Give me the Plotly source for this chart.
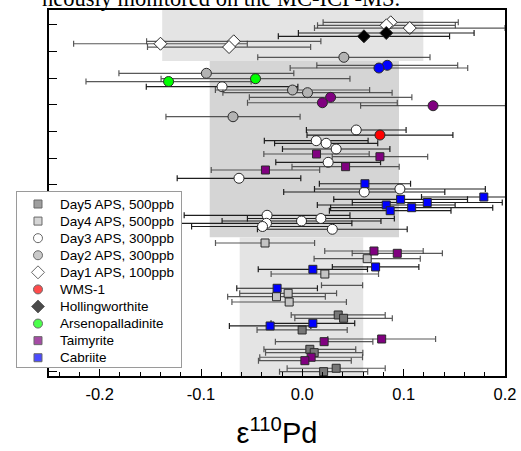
import plotly.graph_objects as go

# ---------------- data (epsilon 110Pd, 2SD, row position) ----------------
day5_x = [0.0354, 0.0407, -0.0002, 0.0074, 0.0117, 0.0334, 0.0210]
day5_err = [0.0464, 0.0481, 0.0445, 0.0453, 0.0480, 0.0484, 0.0435]
day5_y = [10.64, 10.02, 7.83, 4.21, 3.58, 0.66, 0.02]

day4_x = [-0.0368, 0.0640, 0.0222, -0.0140, -0.0255, -0.0130]
day4_err = [0.0489, 0.0524, 0.0530, 0.0478, 0.0482, 0.0565]
day4_y = [24.12, 21.18, 18.31, 14.70, 14.06, 13.07]

day4_baronly_x = [0.0392]
day4_baronly_err = [0.0203]
day4_baronly_y = [16.2]

day3_x = [-0.0792, 0.0532, 0.0137, 0.0235, 0.0334, 0.0255, -0.0625, 0.0963,
          0.0611, -0.0348, 0.0183, -0.0008, -0.0354, -0.0393, 0.0296]
day3_err = [0.0748, 0.0492, 0.0512, 0.0509, 0.0530, 0.0517, 0.0610, 0.0843,
            0.0795, 0.0818, 0.0725, 0.0784, 0.0843, 0.0700, 0.0739]
day3_y = [53.39, 45.28, 43.28, 42.79, 41.72, 39.23, 36.24, 34.23,
          33.67, 29.31, 28.71, 28.24, 27.81, 27.21, 26.69]

day2_x = [0.0410, -0.0947, -0.0097, 0.0051, -0.0684]
day2_err = [0.0850, 0.0863, 0.0761, 0.0835, 0.0662]
day2_y = [58.90, 55.90, 52.77, 52.27, 47.77]

day1_x = [0.0872, 0.0830, 0.1060, -0.0677, -0.1400, -0.0723]
day1_err = [0.0667, 0.0680, 0.0940, 0.0860, 0.0857, 0.0805]
day1_y = [65.45, 64.89, 64.38, 61.89, 61.44, 60.82]

wms_x = [0.0766]
wms_err = [0.0720]
wms_y = [44.34]

holl_x = [0.0828, 0.0608]
holl_err = [0.0867, 0.0845]
holl_y = [63.45, 62.83]

arseno_x = [-0.0462, -0.1320]
arseno_err = [0.0932, 0.0815]
arseno_y = [54.89, 54.36]

taim_x = [0.0140, 0.0766, 0.0427, -0.0364, 0.0707, 0.0937, 0.0783, 0.0215, 0.0087, 0.0025]
taim_err = [0.0520, 0.0471, 0.0529, 0.0535, 0.0486, 0.0445, 0.0532, 0.0481, 0.0507, 0.0458]
taim_y = [40.79, 40.28, 38.41, 37.79, 22.62, 22.19, 6.14, 5.64, 2.72, 2.08]

taim_c_x = [0.0279, 0.0198, 0.1290]
taim_c_err = [0.0802, 0.0739, 0.0715]
taim_c_y = [51.40, 50.39, 49.83]

cab_x = [0.0618, 0.1791, 0.0970, 0.1233, 0.0828, 0.1079, 0.0867, 0.0723, 0.0104,
         -0.0249, 0.0104, -0.0318]
cab_err = [0.0450, 0.0615, 0.0660, 0.0740, 0.0680, 0.0800, 0.0600, 0.0427, 0.0539,
           0.0398, 0.0413, 0.0402]
cab_y = [35.22, 32.73, 32.30, 31.70, 31.24, 30.73, 30.17, 19.63, 19.19,
         15.64, 9.08, 8.58]

cab_c_x = [0.0838, 0.0756]
cab_c_err = [0.0695, 0.0876]
cab_c_y = [57.40, 56.89]

# 2SD bands
band_x0 = [-0.1383, -0.0914, -0.0618]
band_x1 = [0.1194, 0.0954, 0.0601]
band_y0 = [58.2, 25.2, -0.79]
band_y1 = [67.85, 58.2, 25.2]
band_col = ["#e4e4e4", "#d5d5d5", "#e4e4e4"]

x_tickvals = [-0.2, -0.1, 0.0, 0.1, 0.2]
x_ticktext = ["-0.2", "-0.1", "0.0", "0.1", "0.2"]

legend_names = ["Day5 APS, 500ppb", "Day4 APS, 500ppb", "Day3 APS, 300ppb",
                "Day2 APS, 300ppb", "Day1 APS, 100ppb", "WMS-1", "Hollingworthite",
                "Arsenopalladinite", "Taimyrite", "Cabriite"]
legend_symbols = ["square", "square", "circle", "circle", "diamond", "circle",
                  "diamond", "circle", "square", "square"]
legend_colors = ["#777777", "#c4c4c4", "#ffffff", "#b3b3b3", "#ffffff", "#ff0000",
                 "#000000", "#00ff00", "#800080", "#0000ff"]

W, H = 521, 451

fig = go.Figure()

grey_bar = "rgba(60,60,60,0.85)"
dark_bar = "#1e1e1e"
edge = "#2a2a2a"


def add(name, xs, errs, ys, symbol, fill, size, barcol):
    fig.add_trace(go.Scatter(
        x=xs, y=ys, mode="markers", name=name, showlegend=False,
        marker=dict(symbol=symbol, color=fill, size=size,
                    line=dict(color=edge, width=1)),
        error_x=dict(type="data", array=errs, symmetric=True,
                     color=barcol, thickness=1.2, width=3),
    ))


add("Day5 APS, 500ppb", day5_x, day5_err, day5_y, "square", "#777777", 8, grey_bar)
add("Day4 APS, 500ppb", day4_x, day4_err, day4_y, "square", "#c4c4c4", 8, grey_bar)
fig.add_trace(go.Scatter(
    x=day4_baronly_x, y=day4_baronly_y, mode="markers", showlegend=False,
    marker=dict(size=1, color="rgba(0,0,0,0)"),
    error_x=dict(type="data", array=day4_baronly_err, symmetric=True,
                 color=grey_bar, thickness=1.2, width=3)))
add("Day3 APS, 300ppb", day3_x, day3_err, day3_y, "circle", "#ffffff", 10, dark_bar)
add("Day2 APS, 300ppb", day2_x, day2_err, day2_y, "circle", "#b3b3b3", 10, grey_bar)
add("Day1 APS, 100ppb", day1_x, day1_err, day1_y, "diamond", "#ffffff", 10, grey_bar)
add("WMS-1", wms_x, wms_err, wms_y, "circle", "#ff0000", 10, dark_bar)
add("Hollingworthite", holl_x, holl_err, holl_y, "diamond", "#000000", 10, dark_bar)
add("Arsenopalladinite", arseno_x, arseno_err, arseno_y, "circle", "#00ff00", 10, grey_bar)
add("Taimyrite", taim_x, taim_err, taim_y, "square", "#800080", 8, grey_bar)
add("Cabriite", cab_x, cab_err, cab_y, "square", "#0000ff", 8, dark_bar)
add("Taimyrite (circles)", taim_c_x, taim_c_err, taim_c_y, "circle", "#800080", 10, grey_bar)
add("Cabriite (circles)", cab_c_x, cab_c_err, cab_c_y, "circle", "#0000ff", 10, grey_bar)

for x0, x1, y0, y1, c in zip(band_x0, band_x1, band_y0, band_y1, band_col):
    fig.add_shape(type="rect", xref="x", yref="y", x0=x0, x1=x1, y0=y0, y1=y1,
                  fillcolor=c, line=dict(width=0), layer="below")

# ---- legend drawn as its own small subplot (x2/y2) on top of the main plot ----
n_leg = len(legend_names)
leg_rows = [0.72 + i for i in range(n_leg)]
fig.add_trace(go.Scatter(
    x=[0.128] * n_leg, y=leg_rows, mode="markers", xaxis="x2", yaxis="y2",
    showlegend=False, cliponaxis=False, hoverinfo="skip",
    marker=dict(symbol=legend_symbols, color=legend_colors,
                size=[8 if s == "square" else (10 if s == "diamond" else 9) for s in legend_symbols],
                line=dict(color=edge, width=1)),
))
fig.add_shape(type="rect", xref="x2", yref="y2", x0=0, x1=1, y0=0, y1=10.28,
              fillcolor="white", line=dict(width=0), layer="below")
for name, yy in zip(legend_names, leg_rows):
    fig.add_annotation(text=name, xref="x2", yref="y2", x=0.248, y=yy,
                       xanchor="left", yanchor="middle", showarrow=False,
                       font=dict(size=13.5, family="Liberation Sans, Arial", color="#000"))

fig.add_annotation(text="neously monitored on the MC-ICP-MS.", xref="paper", yref="paper",
                   x=40 / W, y=0.971, xanchor="left", yanchor="bottom", showarrow=False,
                   font=dict(family="Liberation Serif", size=22.5, color="#000000"))

fig.update_layout(
    template="none",
    width=W, height=H,
    margin=dict(l=0, r=0, t=0, b=0, pad=0, autoexpand=False),
    paper_bgcolor="white", plot_bgcolor="rgba(0,0,0,0)",
    font=dict(family="Liberation Sans, Arial", color="#000000"),
    showlegend=False,
    xaxis=dict(domain=[49 / W, 505 / W], anchor="y",
               range=[-0.25, 0.2], tickvals=x_tickvals, ticktext=x_ticktext,
               ticks="inside", ticklen=7, tickwidth=1.3, tickcolor="#000",
               minor=dict(dtick=0.02, tick0=0, ticks="inside", ticklen=4,
                          tickwidth=1, tickcolor="#000", showgrid=False),
               showline=True, linecolor="#000", linewidth=1.5, mirror=True,
               showgrid=False, zeroline=False, automargin=False,
               ticklabelstandoff=2,
               tickfont=dict(size=16.5),
               title=dict(text="ε<sup>110</sup>Pd", font=dict(size=29), standoff=21)),
    yaxis=dict(domain=[(H - 376) / H, (H - 9.5) / H], anchor="x",
               range=[-0.79, 67.85], tick0=0, dtick=5, ticks="inside", ticklen=8,
               tickwidth=1.3, tickcolor="#000", showticklabels=False,
               showline=True, linecolor="#000", linewidth=1.5, mirror=True,
               showgrid=False, zeroline=False, automargin=False),
    xaxis2=dict(domain=[17 / W, 181 / W], anchor="y2", range=[0, 1],
                showticklabels=False, ticks="", showgrid=False, zeroline=False,
                showline=True, mirror=True, linecolor="#9a9a9a", linewidth=1,
                fixedrange=True, automargin=False),
    yaxis2=dict(domain=[(H - 367.3) / H, (H - 191.7) / H], anchor="x2",
                range=[10.28, 0], showticklabels=False, ticks="", showgrid=False,
                zeroline=False, showline=True, mirror=True, linecolor="#9a9a9a",
                linewidth=1, fixedrange=True, automargin=False),
)

fig.write_html("out.html", config={"displayModeBar": False},
               post_script="document.body.style.margin='0';")
